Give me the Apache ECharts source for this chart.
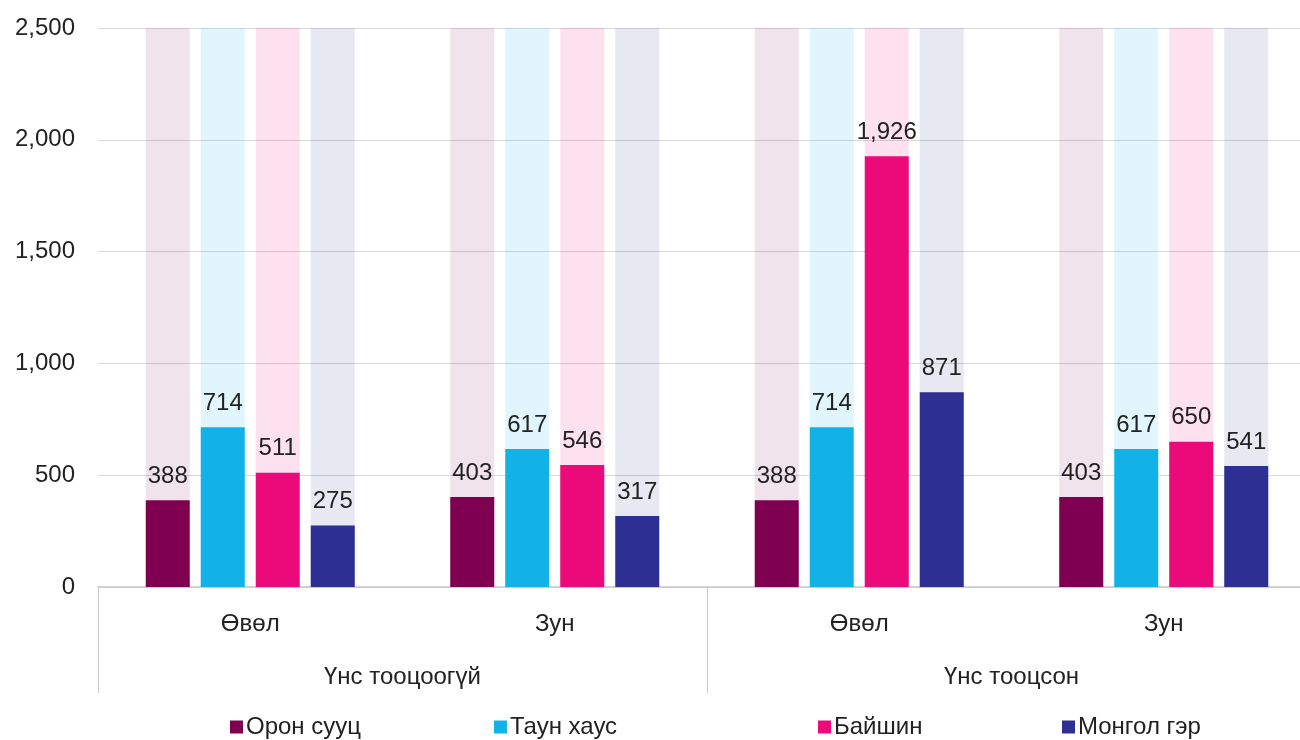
<!DOCTYPE html>
<html>
<head>
<meta charset="utf-8">
<script src="https://cdn.jsdelivr.net/npm/echarts@6/dist/echarts.min.js"></script>
<style>
  html, body { margin: 0; padding: 0; background: #fff; overflow: hidden; }
  /* the original chart is cut off on the right, so the canvas runs past the window */
  #main { width: 1316px; height: 740px; }
</style>
</head>
<body>
<div id="main"></div>
<script>
// chart data
var seasons = ["Өвөл", "Зун", "Өвөл", "Зун"];
var groups = ["Үнс тооцоогүй", "Үнс тооцсон"];
var seriesNames = ["Орон сууц", "Таун хаус", "Байшин", "Монгол гэр"];
var apartment = [388, 403, 388, 403];
var townhouse = [714, 617, 714, 617];
var house = [511, 546, 1926, 650];
var ger = [275, 317, 871, 541];
var yTicks = [0, 500, 1000, 1500, 2000, 2500];

var font = "Liberation Sans, Arial, sans-serif";
var colors = ["#7f0050", "#12b2e8", "#ec0a7b", "#2e2f92"];
var bgColors = [
  "rgba(128,0,80,0.11)",
  "rgba(18,178,232,0.13)",
  "rgba(236,10,123,0.12)",
  "rgba(46,47,146,0.11)"
];
var values = [apartment, townhouse, house, ger];

var myChart = echarts.init(document.getElementById("main"));

function fmt(v) {
  return Number(v).toLocaleString("en-US");
}

var series = seriesNames.map(function (name, i) {
  return {
    name: name,
    type: "bar",
    data: values[i],
    barWidth: 44,
    barGap: "25%",
    itemStyle: { color: colors[i] },
    showBackground: true,
    backgroundStyle: { color: bgColors[i] },
    label: {
      show: true,
      position: "top",
      distance: 12,
      color: "#222",
      fontFamily: font,
      fontSize: 24,
      formatter: function (p) { return fmt(p.value); }
    }
  };
});

// one legend per item so they sit where the original places them
var legendLeft = [225, 489, 813, 1057];
var legends = seriesNames.map(function (name, i) {
  return {
    data: [name],
    left: legendLeft[i],
    top: 710,
    icon: "rect",
    itemWidth: 13,
    itemHeight: 13,
    itemGap: 5,
    textStyle: { color: "#222", fontFamily: font, fontSize: 24, padding: [0, 0, 0, -2] }
  };
});

var option = {
  animation: false,
  backgroundColor: "#fff",
  legend: legends,
  grid: { left: 98, right: 0, top: 28, bottom: 153, containLabel: false },
  xAxis: [
    {
      type: "category",
      data: seasons,
      axisLine: { lineStyle: { color: "#c8c8c8", width: 1.5 } },
      axisTick: { show: false },
      axisLabel: { color: "#222", fontFamily: font, fontSize: 24, margin: 25 }
    },
    {
      type: "category",
      data: groups,
      position: "bottom",
      axisLine: { show: false },
      axisTick: { show: true, length: 106, lineStyle: { color: "#c8c8c8" } },
      axisLabel: { color: "#222", fontFamily: font, fontSize: 24, margin: 78 }
    }
  ],
  yAxis: {
    type: "value",
    min: yTicks[0],
    max: yTicks[yTicks.length - 1],
    interval: 500,
    axisLine: { show: false },
    axisTick: { show: false },
    splitLine: { lineStyle: { color: "#d9d9d9", width: 1.2 } },
    axisLabel: {
      color: "#222",
      fontFamily: font,
      fontSize: 24,
      margin: 23,
      formatter: function (v) { return fmt(v); }
    }
  },
  series: series
};

myChart.setOption(option);
</script>
</body>
</html>
